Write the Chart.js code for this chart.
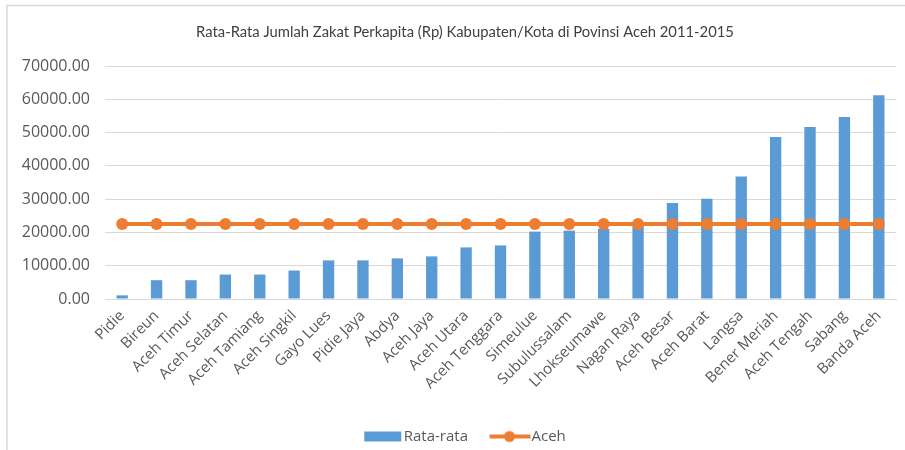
<!DOCTYPE html>
<html>
<head>
<meta charset="utf-8">
<script src="https://cdn.jsdelivr.net/npm/chart.js@4.4.0/dist/chart.umd.min.js"></script>
<style>
  html, body { margin: 0; padding: 0; background: #ffffff; }
  #wrap { position: relative; width: 905px; height: 450px; }
</style>
</head>
<body>
<div id="wrap"><canvas id="c" width="905" height="450"></canvas></div>
<script>
const categories = ["Pidie", "Bireun", "Aceh Timur", "Aceh Selatan", "Aceh Tamiang", "Aceh Singkil",
  "Gayo Lues", "Pidie Jaya", "Abdya", "Aceh Jaya", "Aceh Utara", "Aceh Tenggara", "Simeulue",
  "Subulussalam", "Lhokseumawe", "Nagan Raya", "Aceh Besar", "Aceh Barat", "Langsa",
  "Bener Meriah", "Aceh Tengah", "Sabang", "Banda Aceh"];
const rataRata = [1100, 5650, 5650, 7350, 7350, 8550, 11600, 11600, 12200, 12800, 15500, 16100,
  20250, 20550, 21100, 22800, 28850, 30150, 36800, 48650, 51650, 54700, 61250];
const aceh = [22500, 22500, 22500, 22500, 22500, 22500, 22500, 22500, 22500, 22500, 22500, 22500,
  22500, 22500, 22500, 22500, 22500, 22500, 22500, 22500, 22500, 22500, 22500];
const yTicks = [0, 10000, 20000, 30000, 40000, 50000, 60000, 70000];
const seriesNames = ["Rata-rata", "Aceh"];
const titleText = "Rata-Rata Jumlah Zakat Perkapita (Rp) Kabupaten/Kota di Povinsi Aceh 2011-2015";

const BLUE = "#5B9BD5", ORANGE = "#ED7D31", GRAY = "#595959", GRID = "#D9D9D9";

function legendIcon(kind) {
  const cv = document.createElement("canvas");
  cv.width = 70; cv.height = 14;
  const g = cv.getContext("2d");
  if (kind === "bar") {
    g.fillStyle = BLUE;
    g.fillRect(31, 2, 37, 10);
  } else {
    g.strokeStyle = ORANGE; g.lineWidth = 4;
    g.beginPath(); g.moveTo(28.5, 7); g.lineTo(69.5, 7); g.stroke();
    g.fillStyle = ORANGE;
    g.beginPath(); g.arc(48.5, 7, 5.5, 0, Math.PI * 2); g.fill();
  }
  return cv;
}
const icons = [legendIcon("bar"), legendIcon("line")];

const framePlugin = {
  id: "frame",
  beforeDraw(chart) {
    const ctx = chart.ctx;
    ctx.save();
    ctx.strokeStyle = "#D9D9D9";
    ctx.lineWidth = 1.5;
    ctx.beginPath();
    ctx.moveTo(7, 450); ctx.lineTo(7, 5.5); ctx.lineTo(905, 5.5);
    ctx.stroke();
    ctx.restore();
  },
  afterDraw(chart) {
    const ctx = chart.ctx;
    ctx.save();
    ctx.fillStyle = "#404040";
    ctx.font = "14.8px Lato";
    ctx.textAlign = "center";
    ctx.textBaseline = "middle";
    ctx.fillText(titleText, 465, 32);
    ctx.restore();
  }
};

new Chart(document.getElementById("c"), {
  type: "bar",
  data: {
    labels: categories,
    datasets: [
      {
        type: "line", label: seriesNames[1], data: aceh,
        borderColor: ORANGE, backgroundColor: ORANGE, borderWidth: 4,
        pointRadius: 6, pointBackgroundColor: ORANGE, pointBorderColor: ORANGE, pointBorderWidth: 0,
        tension: 0, order: 0
      },
      {
        type: "bar", label: seriesNames[0], data: rataRata,
        backgroundColor: BLUE, borderWidth: 0,
        barPercentage: 0.33, categoryPercentage: 1.0, order: 1
      }
    ]
  },
  options: {
    responsive: false,
    animation: false,
    layout: { padding: { top: 66, left: 10, right: 9, bottom: -4 } },
    plugins: {
      title: { display: false },
      legend: {
        position: "bottom",
        labels: {
          usePointStyle: true,
          pointStyleWidth: 56,
          color: GRAY,
          font: { family: "Open Sans", size: 15 },
          padding: 0,
          generateLabels(chart) {
            return [
              { text: seriesNames[0], pointStyle: icons[0], fillStyle: BLUE, strokeStyle: BLUE, lineWidth: 0, datasetIndex: 1, fontColor: GRAY },
              { text: seriesNames[1], pointStyle: icons[1], fillStyle: ORANGE, strokeStyle: ORANGE, lineWidth: 0, datasetIndex: 0, fontColor: GRAY }
            ];
          }
        }
      },
      tooltip: { enabled: false }
    },
    scales: {
      x: {
        grid: { display: false, drawTicks: false },
        border: { display: true, color: GRID, width: 1 },
        ticks: {
          color: GRAY, font: { family: "Open Sans", size: 15 },
          maxRotation: 45, minRotation: 45, autoSkip: false, padding: 8
        },
        afterFit(scale) { scale.height = 130; }
      },
      y: {
        min: 0, max: 70000,
        afterBuildTicks(scale) { scale.ticks = yTicks.map(v => ({ value: v })); },
        grid: { color: GRID, lineWidth: 1, drawTicks: false },
        border: { display: false },
        ticks: {
          color: GRAY, font: { family: "Open Sans", size: 16 }, padding: 15,
          callback: v => Number(v).toFixed(2)
        },
        afterFit(scale) { scale.width = 95; }
      }
    }
  },
  plugins: [framePlugin]
});
</script>
</body>
</html>
